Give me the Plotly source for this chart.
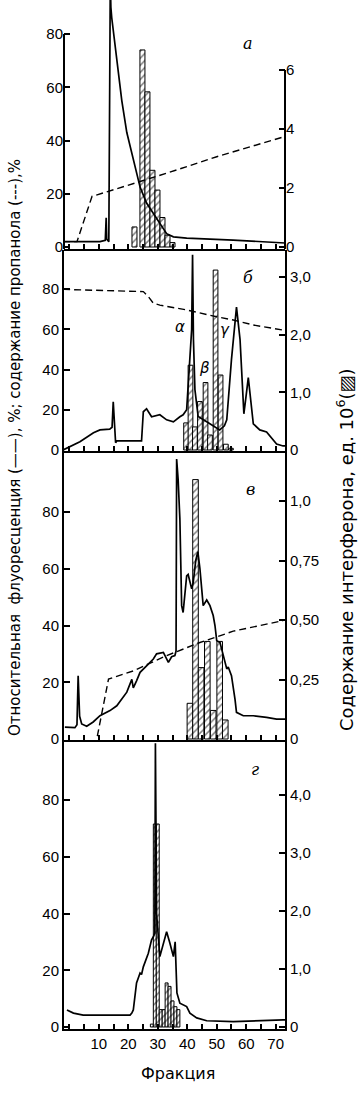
import plotly.graph_objects as go

# ---------------- data ----------------
# Panel а
a_fl_x = [-2.1, 5, 10.4, 12.2, 12.5, 12.7, 13.0, 13.4, 13.7, 13.9, 14.1, 14.4, 16.1, 17.8, 19.5, 21.7, 24.0, 26.2, 28.5, 30.7, 33.0, 35.3, 39.8, 55.6, 72.5, 73.2]
a_fl_y = [2, 2, 2, 2.5, 11, 3, 2.5, 2, 60, 100, 90, 86, 70, 55, 43, 33, 22.5, 16.5, 12.7, 9, 5, 3.8, 3.3, 2.6, 1.5, 1.5]
a_pr_x = [-2.1, 2.6, 7.7, 14.9, 33.0, 50.0, 72.5]
a_pr_y = [2, 2, 19, 21.4, 27.7, 33.9, 41.3]
a_if_x = [22.1, 24.8, 26.5, 28.2, 29.9, 31.6, 33.3, 35.0]
a_if_y = [0.68, 6.68, 5.26, 2.6, 1.93, 1.0, 0.4, 0.15]

# Panel б
b_fl_x = [-2.1, 3.6, 8.2, 10.4, 13.7, 14.5, 14.9, 15.3, 15.7, 16.1, 24.5, 25.1, 26.2, 27.9, 30.7, 33.0, 35.3, 37.5, 38.6, 39.8, 40.9, 41.5, 41.8, 42.1, 42.6, 43.7, 46.6, 48.7, 51.0, 52.6, 53.4, 55.0, 56.2, 56.7, 57.9, 59.2, 59.8, 60.7, 62.4, 64.6, 66.9, 70.3, 72.5, 73.2]
b_fl_y = [0, 4.1, 8.6, 10, 10.4, 11.3, 24, 11, 3.6, 4.5, 4.5, 19, 20.5, 16.5, 17.5, 15, 14, 16.5, 17.5, 20, 45, 60, 97, 55, 30, 16.6, 14, 12, 10, 12, 15, 45, 65, 71, 55, 18, 25, 36, 13, 10, 9, 3, 2, 2]
b_pr_x = [-2.1, 19.5, 25.1, 26.8, 28.5, 30.7, 39.8, 50.0, 55.6, 62.4, 72.5]
b_pr_y = [79.8, 79, 78.7, 76.2, 72.9, 72, 69.6, 66.2, 64.6, 62.1, 59.6]
b_if_x = [39.6, 41.1, 42.6, 44.3, 46.2, 47.7, 49.6, 51.3, 53.1, 54.8]
b_if_y = [0.47, 1.47, 0.4, 0.84, 1.17, 0.26, 3.12, 1.3, 0.1, 0.03]

# Panel в
c_fl_x = [-1.5, 1.9, 2.6, 3.0, 3.5, 4.2, 5.9, 8.1, 10.4, 13.8, 16.1, 19.5, 21.2, 21.7, 22.8, 24.0, 26.2, 28.5, 29.6, 31.9, 33.6, 34.7, 35.8, 36.2, 36.4, 36.9, 37.5, 37.7, 38.1, 38.6, 39.8, 40.3, 41.5, 42.0, 42.9, 43.6, 44.3, 45.4, 46.6, 47.7, 48.8, 49.4, 50.0, 51.1, 52.2, 53.4, 53.9, 55.0, 56.2, 56.7, 59.0, 62.4, 66.9, 70.3, 73.2]
c_fl_y = [4.2, 4, 5, 22.3, 8, 5.3, 4.5, 6, 8.2, 10, 11.7, 16.5, 21, 18, 20.5, 23.5, 25.8, 28.2, 30, 30.5, 27, 29, 29.4, 31, 98.7, 91.6, 77.5, 60, 47, 44.6, 57.5, 58, 52.9, 55, 63, 66, 60, 47, 49, 47, 43.5, 40, 34.6, 34, 30, 24.7, 25.4, 22.3, 14, 9.4, 8.2, 8.2, 7.6, 7, 7]
c_pr_x = [9.5, 13.3, 21.7, 33.0, 44.3, 55.6, 72.5]
c_pr_y = [1, 21.1, 24, 29.4, 34, 38, 41.7]
c_if_x = [40.9, 42.8, 44.7, 46.8, 48.8, 51.0, 52.9]
c_if_y = [0.15, 1.09, 0.3, 0.41, 0.12, 0.41, 0.08]

# Panel г
d_fl_x = [-0.8, 1.4, 4.7, 20.6, 21.2, 21.7, 22.8, 24.0, 24.5, 25.1, 26.8, 27.9, 28.5, 29.0, 29.2, 29.6, 30.7, 33.0, 34.1, 35.3, 35.9, 36.5, 37.5, 39.8, 40.9, 43.2, 46.6, 55.6, 72.5, 73.2]
d_fl_y = [6, 4.9, 4.2, 4.2, 4.9, 6, 15.5, 19, 18.5, 21.2, 26, 30.7, 31.8, 33, 100, 40, 24.8, 33.6, 29.6, 24.8, 30, 12, 8.4, 7.2, 4.9, 3.2, 2.2, 1.9, 2.5, 2.5]
d_if_x = [28, 29, 30, 31, 32, 33, 34, 35, 36, 37]
d_if_y = [0.05, 3.5, 3.5, 0.3, 0.3, 0.76, 0.7, 0.45, 0.35, 0.3]

left_ticks = [0, 20, 40, 60, 80]
left_text = ["0", "20", "40", "60", "80"]
a_right_vals, a_right_text = [0, 2, 4, 6], ["0", "2", "4", "6"]
b_right_vals, b_right_text = [0, 1, 2, 3], ["0", "1,0", "2,0", "3,0"]
c_right_vals, c_right_text = [0, 0.25, 0.5, 0.75, 1.0], ["0", "0,25", "0,50", "0,75", "1,0"]
d_right_vals, d_right_text = [0, 1, 2, 3, 4], ["0", "1,0", "2,0", "3,0", "4,0"]
x_tick_vals = list(range(0, 75, 5))
x_tick_text = [str(v) if v % 10 == 0 and v > 0 else "" for v in x_tick_vals]

panel_letters = ["а", "б", "в", "г"]

# ---------------- layout geometry ----------------
W, H = 363, 1099
ML, MR, MT, MB = 64, 78, 0, 69
PH = H - MT - MB
X_RANGE = [-1.8, 73.15]

# (top px, bottom px, zero px, px per left unit, px per right unit)
geom = [
    (0, 249, 247, 2.6625, 29.5),
    (250, 451, 450, 2.0125, 57.67),
    (452, 740, 739, 2.8375, 238.0),
    (741, 1029, 1027, 2.8375, 58.0),
]

series = [
    (a_fl_x, a_fl_y, a_pr_x, a_pr_y, a_if_x, a_if_y, 1.7, a_right_vals, a_right_text),
    (b_fl_x, b_fl_y, b_pr_x, b_pr_y, b_if_x, b_if_y, 1.6, b_right_vals, b_right_text),
    (c_fl_x, c_fl_y, c_pr_x, c_pr_y, c_if_x, c_if_y, 1.9, c_right_vals, c_right_text),
    (d_fl_x, d_fl_y, None, None, d_if_x, d_if_y, 1.0, d_right_vals, d_right_text),
]

FONT = "Liberation Sans, Arial, sans-serif"
TFONT = dict(family=FONT, size=15, color="black")

fig = go.Figure()
layout = dict(
    width=W, height=H, margin=dict(l=ML, r=MR, t=MT, b=MB),
    paper_bgcolor="white", plot_bgcolor="white", showlegend=False,
    barmode="overlay", shapes=[], annotations=[],
)

hatch = dict(color="white", line=dict(color="black", width=1),
             pattern=dict(shape="/", fgcolor="black", bgcolor="white", size=5, solidity=0.3))

letter_pos = [(60.6, 76.6), (60.6, 85.5), (61.3, 88.0), (62.9, 90.6)]

for k, (g, s) in enumerate(zip(geom, series), start=1):
    top, bot, zero, ppl, ppr = g
    flx, fly, prx, pry, ifx, ify, bw, rv, rt = s
    xa = "x" if k == 1 else f"x{k}"
    yr = "y" if k == 1 else f"y{k}"
    yl = f"y{k + 4}"
    dom = [(PH - bot) / PH, (PH - top) / PH]
    lrange = [(zero - bot) / ppl, (zero - top) / ppl]
    rrange = [(zero - bot) / ppr, (zero - top) / ppr]

    fig.add_trace(go.Bar(x=ifx, y=ify, width=[bw] * len(ifx), marker=hatch,
                         xaxis=xa, yaxis=yr))
    if prx is not None:
        fig.add_trace(go.Scatter(x=prx, y=pry, mode="lines", xaxis=xa, yaxis=yl,
                                 line=dict(color="black", width=1.4, dash="7px,4px")))
    fig.add_trace(go.Scatter(x=flx, y=fly, mode="lines", xaxis=xa, yaxis=yl,
                             line=dict(color="black", width=1.7)))

    layout["xaxis" if k == 1 else f"xaxis{k}"] = dict(
        domain=[0, 1], anchor=yr, range=X_RANGE, matches=None if k == 1 else "x",
        tickvals=x_tick_vals, ticktext=x_tick_text, ticks="inside", ticklen=5,
        tickwidth=1.5, tickcolor="black", showticklabels=(k == 4),
        showline=True, linewidth=2, linecolor="black", showgrid=False, zeroline=False,
        tickfont=TFONT,
    )
    layout["yaxis" if k == 1 else f"yaxis{k}"] = dict(
        domain=dom, anchor=xa, side="right", range=rrange,
        tickvals=rv, ticktext=rt, ticks="inside", ticklen=6, tickwidth=1.5,
        tickcolor="black", showline=(k != 1), linewidth=2, linecolor="black",
        showgrid=False, zeroline=False, tickfont=TFONT,
    )
    layout[f"yaxis{k + 4}"] = dict(
        overlaying=yr, anchor=xa, side="left", range=lrange,
        tickvals=left_ticks, ticktext=left_text, ticks="inside", ticklen=6,
        tickwidth=1.5, tickcolor="black", showline=(k != 1), linewidth=2,
        linecolor="black", showgrid=False, zeroline=False, tickfont=TFONT,
    )
    if k == 1:
        layout["shapes"].append(dict(type="line", xref="paper", yref=yl, x0=0, x1=0,
                                     y0=lrange[0], y1=80, line=dict(color="black", width=2)))
        layout["shapes"].append(dict(type="line", xref="paper", yref=yr, x0=1, x1=1,
                                     y0=rrange[0], y1=6, line=dict(color="black", width=2)))
    lx, ly = letter_pos[k - 1]
    layout["annotations"].append(dict(
        x=lx, y=ly, xref=xa, yref=yl, text=f"<i>{panel_letters[k - 1]}</i>",
        showarrow=False, font=dict(family="DejaVu Serif, serif", size=16, color="black")))

# Greek labels in panel б
for txt, gx, gy in [("α", 37.5, 61), ("β", 46.0, 40.7), ("γ", 52.8, 59.6)]:
    layout["annotations"].append(dict(
        x=gx, y=gy, xref="x2", yref="y6", text=f"<i>{txt}</i>", showarrow=False,
        font=dict(family="DejaVu Sans, sans-serif", size=15, color="black")))

PW = W - ML - MR
layout["annotations"].append(dict(
    x=(15 - ML) / PW, y=(PH - 448) / PH, xref="paper", yref="paper",
    text="Относительная  флуоресценция (——), %; содержание пропанола (---),%",
    textangle=-90, showarrow=False, xanchor="center", yanchor="middle",
    font=dict(family="DejaVu Sans, sans-serif", size=15, color="black")))
layout["annotations"].append(dict(
    x=(345 - ML) / PW, y=(PH - 550) / PH, xref="paper", yref="paper",
    text="Содержание интерферона, ед. 10<sup>6</sup>(▨)",
    textangle=-90, showarrow=False, xanchor="center", yanchor="middle",
    font=dict(family="DejaVu Sans, sans-serif", size=18, color="black")))
layout["annotations"].append(dict(
    x=(178 - ML) / PW, y=(PH - 1073) / PH, xref="paper", yref="paper",
    text="Фракция", showarrow=False, xanchor="center", yanchor="middle",
    font=dict(family="DejaVu Sans, sans-serif", size=16, color="black")))

fig.update_layout(**layout)
fig.write_html("out.html", config={"displayModeBar": False},
               post_script="document.body.style.margin='0';document.documentElement.style.overflow='hidden';")
